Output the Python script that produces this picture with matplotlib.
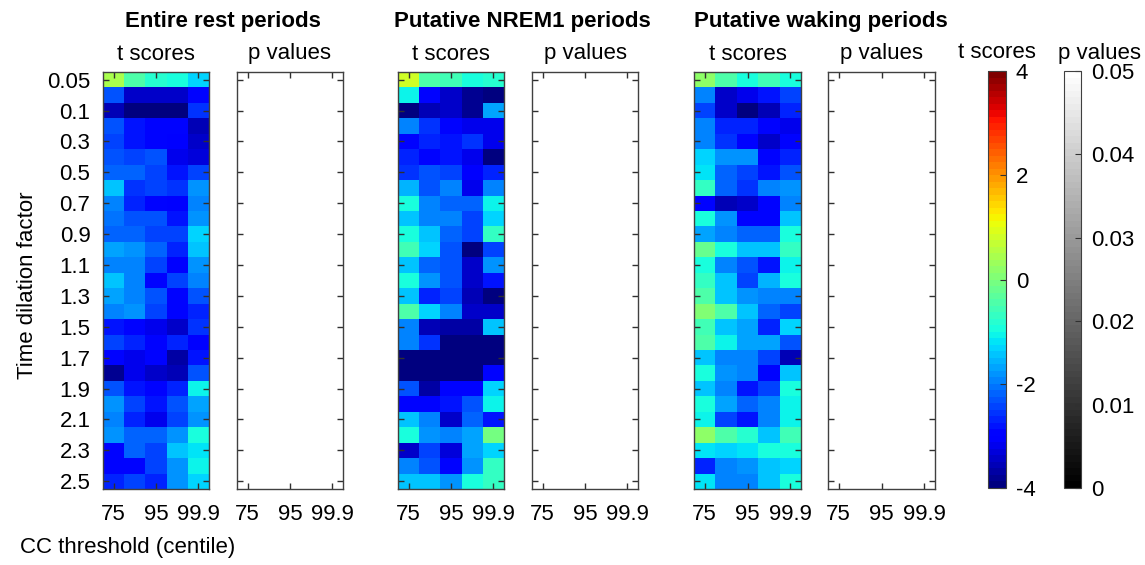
import matplotlib
matplotlib.use('Agg')
import matplotlib.pyplot as plt
import numpy as np

plt.rcParams['font.family'] = ['Liberation Sans', 'DejaVu Sans']
plt.rcParams['axes.unicode_minus'] = False

# rows: time dilation factor, columns: CC threshold centile
dilation = [0.05, 0.075] + [round(0.1 * k, 1) for k in range(1, 26)]
ytick_labels = ['0.05', '0.1', '0.3', '0.5', '0.7', '0.9', '1.1', '1.3', '1.5',
                '1.7', '1.9', '2.1', '2.3', '2.5']
centiles = ['75', '90', '95', '99', '99.9']
xtick_labels = ['75', '95', '99.9']
titles = ['Entire rest periods', 'Putative NREM1 periods', 'Putative waking periods']

t_rest = [
    [0.4, -0.4, -0.8, -1.0, -1.3],
    [-2.3, -3.4, -3.4, -3.4, -2.9],
    [-3.6, -3.9, -3.9, -3.9, -2.6],
    [-2.3, -2.8, -3.0, -3.0, -3.6],
    [-2.5, -2.8, -3.0, -3.1, -3.4],
    [-2.3, -2.5, -2.3, -3.2, -3.3],
    [-2.2, -2.2, -2.5, -2.8, -2.4],
    [-1.5, -2.6, -2.4, -2.6, -1.8],
    [-2.0, -2.7, -2.9, -3.1, -2.0],
    [-2.1, -2.3, -2.3, -2.8, -1.8],
    [-2.2, -2.2, -2.4, -2.4, -1.3],
    [-1.7, -1.8, -2.2, -2.7, -1.4],
    [-1.9, -2.0, -2.5, -3.1, -1.8],
    [-1.5, -2.0, -2.9, -2.5, -1.9],
    [-1.7, -2.0, -2.3, -3.0, -2.3],
    [-2.0, -1.8, -2.5, -3.0, -2.7],
    [-2.8, -3.0, -3.2, -3.5, -2.6],
    [-2.5, -2.7, -2.9, -2.7, -3.1],
    [-3.0, -3.2, -3.0, -3.7, -2.8],
    [-3.8, -3.2, -3.4, -3.6, -2.3],
    [-2.3, -2.8, -3.0, -2.7, -1.1],
    [-1.8, -2.5, -2.8, -2.3, -1.7],
    [-1.9, -2.7, -3.2, -2.5, -1.8],
    [-1.8, -2.2, -2.2, -1.8, -1.0],
    [-3.0, -2.2, -2.5, -1.5, -1.2],
    [-3.0, -2.9, -2.5, -1.8, -1.1],
    [-2.7, -2.5, -2.7, -1.8, -1.3],
]

t_nrem1 = [
    [0.8, -0.4, -0.6, -1.0, -0.8],
    [-1.1, -2.9, -3.4, -3.8, -3.9],
    [-3.9, -3.6, -3.5, -3.8, -1.7],
    [-1.9, -2.6, -3.0, -3.2, -3.2],
    [-2.9, -2.7, -2.8, -2.6, -3.2],
    [-2.7, -3.0, -2.8, -3.2, -4.0],
    [-2.6, -2.3, -2.5, -3.1, -2.7],
    [-1.6, -2.3, -2.0, -3.2, -2.0],
    [-1.0, -1.9, -2.2, -2.2, -1.1],
    [-1.4, -2.0, -2.0, -2.4, -1.3],
    [-1.0, -1.4, -2.2, -2.4, -0.7],
    [-0.6, -1.3, -2.3, -3.9, -2.4],
    [-1.4, -2.2, -2.3, -3.4, -1.8],
    [-1.0, -1.8, -2.3, -3.5, -2.8],
    [-1.4, -2.7, -2.4, -3.6, -3.9],
    [-0.5, -1.3, -2.0, -3.5, -3.4],
    [-2.0, -3.6, -3.7, -3.7, -1.5],
    [-1.9, -2.6, -3.9, -3.9, -3.9],
    [-3.9, -4.0, -4.0, -4.0, -3.9],
    [-4.0, -4.0, -4.0, -4.0, -3.0],
    [-2.3, -3.7, -3.0, -3.0, -1.3],
    [-2.9, -3.0, -2.8, -2.3, -1.05],
    [-1.4, -2.0, -3.4, -2.2, -2.8],
    [-1.0, -1.8, -2.0, -1.7, -0.1],
    [-3.4, -2.5, -3.3, -1.7, -1.3],
    [-2.0, -2.3, -3.0, -1.8, -0.7],
    [-1.4, -1.4, -1.8, -1.0, -0.7],
]

t_waking = [
    [0.2, -0.4, -0.9, -0.6, -1.0],
    [-1.9, -3.4, -3.2, -2.8, -2.4],
    [-2.5, -3.5, -3.9, -3.6, -2.7],
    [-2.0, -2.7, -2.7, -3.0, -3.2],
    [-1.9, -2.6, -2.9, -3.5, -3.0],
    [-1.3, -1.8, -1.8, -3.0, -2.7],
    [-1.2, -2.2, -2.4, -2.8, -2.3],
    [-0.7, -2.2, -2.6, -2.0, -1.8],
    [-2.9, -3.6, -3.5, -3.0, -1.9],
    [-1.0, -1.8, -3.0, -3.0, -1.4],
    [-1.7, -1.9, -2.2, -2.2, -1.0],
    [-0.2, -0.9, -1.4, -1.4, -0.7],
    [-1.0, -1.9, -2.3, -2.8, -1.1],
    [-0.7, -1.5, -2.5, -1.6, -1.0],
    [-0.4, -1.5, -1.8, -2.0, -2.0],
    [0.0, -0.5, -1.4, -2.2, -2.4],
    [-0.6, -1.4, -1.7, -2.7, -1.3],
    [-0.5, -1.1, -1.7, -1.7, -2.3],
    [-1.4, -1.9, -2.0, -2.4, -3.6],
    [-1.0, -1.8, -2.0, -2.9, -1.4],
    [-1.5, -2.0, -2.8, -2.5, -0.9],
    [-1.0, -1.7, -2.2, -1.9, -1.1],
    [-1.1, -2.4, -2.8, -1.9, -1.1],
    [0.2, -0.5, -0.8, -1.4, -0.6],
    [-1.2, -1.3, -1.2, -0.9, -0.9],
    [-2.7, -2.0, -1.8, -1.5, -1.3],
    [-1.2, -2.0, -1.9, -1.4, -1.0],
]

# no cell reaches significance: every p value sits above the 0.05 ceiling
p_rest = [[1.0] * 5 for _ in dilation]
p_nrem1 = [[1.0] * 5 for _ in dilation]
p_waking = [[1.0] * 5 for _ in dilation]

W, H = 1145, 565
fig = plt.figure(figsize=(W / 100, H / 100), dpi=100)

jet = plt.get_cmap('jet', 64)
gray = plt.get_cmap('gray', 64)
edge = '#404040'
fs = 16


def px_axes(x0, x1, y0, y1):
    return fig.add_axes([x0 / W, 1 - y1 / H, (x1 - x0) / W, (y1 - y0) / H])


def style(ax, labels):
    ax.set_xticks([0, 2, 4])
    ax.set_xticklabels(xtick_labels)
    ax.set_yticks(range(0, len(dilation), 2))
    if labels:
        ax.set_yticklabels(ytick_labels)
    else:
        ax.set_yticklabels([])
    ax.tick_params(direction='in', length=4, width=1, top=True, right=True,
                   labelsize=fs, color='#303030')
    ax.tick_params(axis='x', pad=11)
    ax.tick_params(axis='y', pad=9)
    for s in ax.spines.values():
        s.set_color(edge)
        s.set_linewidth(1)


t_data = [t_rest, t_nrem1, t_waking]
p_data = [p_rest, p_nrem1, p_waking]
t_pos = [(103, 209), (398, 504), (694, 801)]
p_pos = [(237, 343), (532, 638), (828, 935)]
top, bot = 72, 489

for i in range(3):
    ax = px_axes(t_pos[i][0], t_pos[i][1], top, bot)
    ax.imshow(np.array(t_data[i]), cmap=jet, vmin=-4, vmax=4, aspect='auto',
              interpolation='nearest')
    style(ax, i == 0)
    ax.set_title('t scores', fontsize=fs, pad=9)

    axp = px_axes(p_pos[i][0], p_pos[i][1], top, bot)
    axp.imshow(np.array(p_data[i]), cmap=gray, vmin=0, vmax=0.05, aspect='auto',
               interpolation='nearest')
    style(axp, False)
    axp.set_title('p values', fontsize=fs, pad=9)

    cx = (t_pos[i][0] + p_pos[i][1]) / 2 + (0, 4, 6)[i]
    fig.text(cx / W, 1 - 21 / H, titles[i], fontsize=fs, fontweight='bold',
             ha='center', va='center')

fig.text(28 / W, 1 - 285 / H, 'Time dilation factor', fontsize=fs,
         rotation=90, ha='center', va='center')
fig.text(20 / W, 1 - 548 / H, 'CC threshold (centile)', fontsize=fs,
         ha='left', va='center')

# colorbars
cax = px_axes(988, 1006, 71, 488)
sm = plt.cm.ScalarMappable(cmap=jet, norm=plt.Normalize(-4, 4))
cb = fig.colorbar(sm, cax=cax, ticks=[-4, -2, 0, 2, 4])
cb.ax.tick_params(direction='in', length=4, labelsize=fs, color='#303030', pad=7)
cb.outline.set_edgecolor(edge)

pax = px_axes(1064, 1081, 71, 488)
sm2 = plt.cm.ScalarMappable(cmap=gray, norm=plt.Normalize(0, 0.05))
cb2 = fig.colorbar(sm2, cax=pax, ticks=[0, 0.01, 0.02, 0.03, 0.04, 0.05])
cb2.ax.set_yticklabels(['0', '0.01', '0.02', '0.03', '0.04', '0.05'])
cb2.ax.tick_params(direction='in', length=4, labelsize=fs, color='#303030', pad=7)
cb2.outline.set_edgecolor(edge)

fig.text(997 / W, 1 - 53 / H, 't scores', fontsize=fs, ha='center', va='center')
fig.text(1099 / W, 1 - 53 / H, 'p values', fontsize=fs, ha='center', va='center')

fig.savefig('out.png', dpi=100, facecolor='white')
